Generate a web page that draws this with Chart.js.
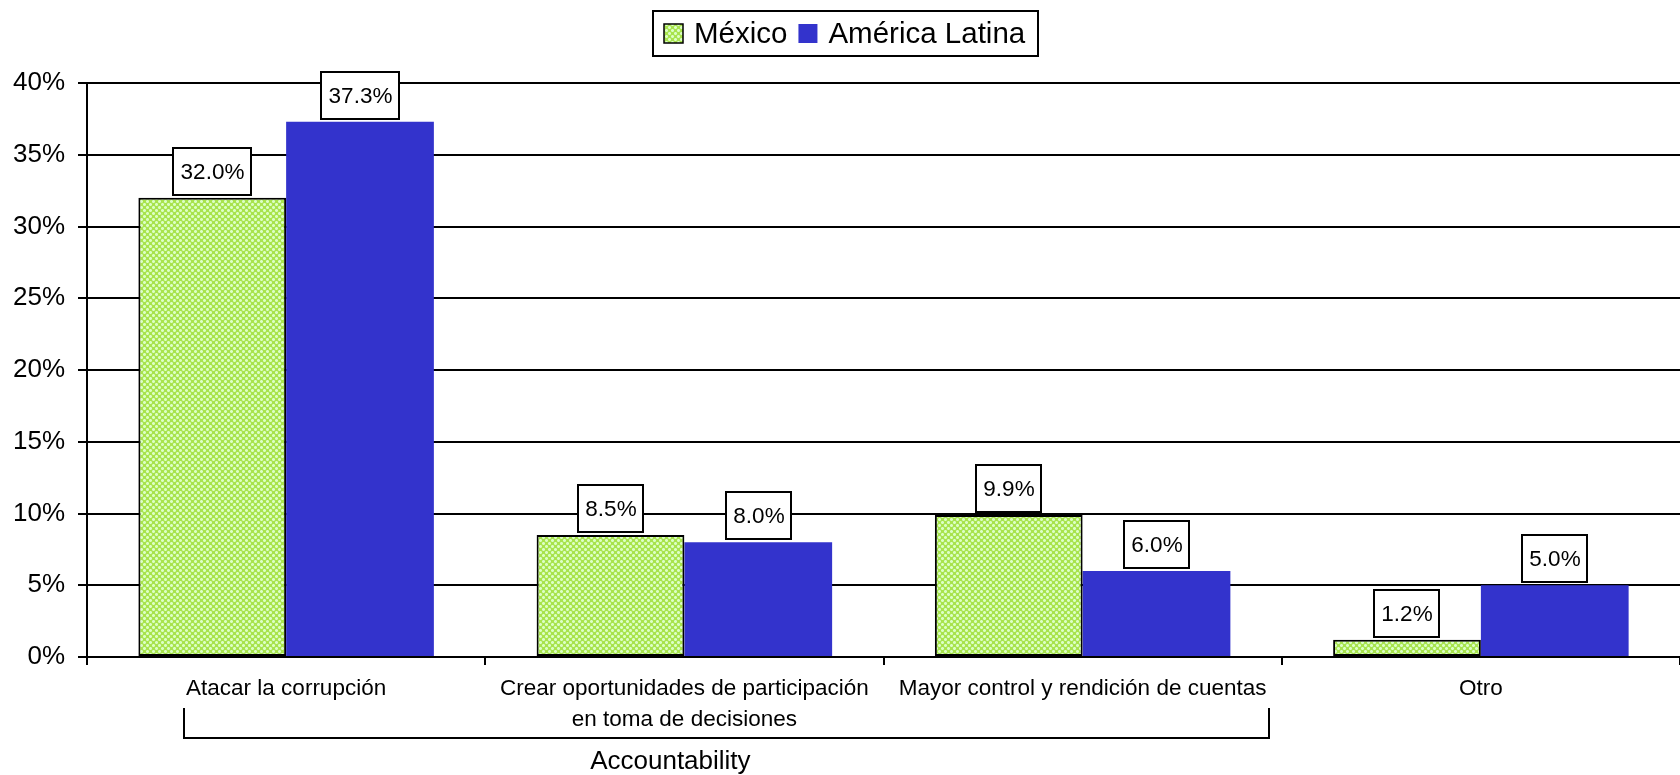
<!DOCTYPE html>
<html>
<head>
<meta charset="utf-8">
<script src="https://cdn.jsdelivr.net/npm/chart.js@4.4.1/dist/chart.umd.min.js"></script>
<style>
  html, body { margin: 0; padding: 0; background: #ffffff; }
  #wrap { width: 1680px; height: 775px; position: relative; }
</style>
</head>
<body>
<div id="wrap"><canvas id="c"></canvas></div>
<script>
// ---- data ----
const categories = [
  'Atacar la corrupción',
  ['Crear oportunidades de participación', 'en toma de decisiones'],
  'Mayor control y rendición de cuentas',
  'Otro'
];
const seriesNames = ['México', 'América Latina'];
const mexico = [32.0, 8.5, 9.9, 1.2];
const americaLatina = [37.3, 8.0, 6.0, 5.0];
const yTickValues = [0, 5, 10, 15, 20, 25, 30, 35, 40];
const groupLabel = 'Accountability';
const groupFirst = 0;
const groupLast = 2;

// ---- styles ----
const FONT = '"Liberation Sans", Arial, sans-serif';
const BLUE = '#3333cc';
const CAT_FONT_SIZE = 22.5;

function makePattern() {
  const t = document.createElement('canvas');
  t.width = 6; t.height = 6;
  const g = t.getContext('2d');
  g.fillStyle = '#a8e34c';
  g.fillRect(0, 0, 6, 6);
  g.fillStyle = '#dcffc4';
  const pts = [[0,0],[1,0],[5,0],[0,1],[0,5],[3,3],[2,3],[4,3],[3,2],[3,4]];
  pts.forEach(p => g.fillRect(p[0], p[1], 1, 1));
  g.fillStyle = '#c4f392';
  [[1,1],[5,5],[1,5],[5,1],[2,2],[4,4],[2,4],[4,2]].forEach(p => g.fillRect(p[0], p[1], 1, 1));
  return g.createPattern(t, 'repeat');
}
const ctx0 = document.getElementById('c').getContext('2d');
const greenPattern = makePattern();

// ---- plugins ----
const labelBoxes = {
  id: 'labelBoxes',
  afterDatasetsDraw(chart) {
    const ctx = chart.ctx;
    ctx.save();
    ctx.font = '22.5px ' + FONT;
    ctx.textAlign = 'center';
    ctx.textBaseline = 'middle';
    chart.data.datasets.forEach((ds, di) => {
      const meta = chart.getDatasetMeta(di);
      meta.data.forEach((bar, i) => {
        const txt = ds.data[i].toFixed(1) + '%';
        const w = Math.round(ctx.measureText(txt).width + 14);
        const h = 47;
        const bottom = bar.y - 3;
        const x0 = Math.round(bar.x - w / 2);
        const y0 = Math.round(bottom - h);
        ctx.fillStyle = '#ffffff';
        ctx.fillRect(x0, y0, w, h);
        ctx.lineWidth = 2;
        ctx.strokeStyle = '#000000';
        ctx.strokeRect(x0, y0, w, h);
        ctx.fillStyle = '#000000';
        ctx.fillText(txt, x0 + w / 2 + 0.5, y0 + h / 2 + 1);
      });
    });
    ctx.restore();
  }
};

const extras = {
  id: 'extras',
  afterDraw(chart) {
    const ctx = chart.ctx;
    const xs = chart.scales.x;
    ctx.save();
    // group bracket spanning the labels of the grouped categories
    ctx.font = CAT_FONT_SIZE + 'px ' + FONT;
    const firstLbl = Array.isArray(categories[groupFirst]) ? categories[groupFirst][0] : categories[groupFirst];
    const lastLbl = Array.isArray(categories[groupLast]) ? categories[groupLast][0] : categories[groupLast];
    const left = Math.round(xs.getPixelForValue(groupFirst) - ctx.measureText(firstLbl).width / 2) - 2;
    const right = Math.round(xs.getPixelForValue(groupLast) + ctx.measureText(lastLbl).width / 2) + 3;
    const yTop = xs.top + 51, yBot = xs.top + 81;
    ctx.strokeStyle = '#000';
    ctx.lineWidth = 2;
    ctx.beginPath();
    ctx.moveTo(left, yTop); ctx.lineTo(left, yBot); ctx.lineTo(right, yBot); ctx.lineTo(right, yTop);
    ctx.stroke();
    ctx.font = '26px ' + FONT;
    ctx.fillStyle = '#000';
    ctx.textAlign = 'center';
    ctx.textBaseline = 'middle';
    ctx.fillText(groupLabel, (xs.getPixelForValue(groupFirst) + xs.getPixelForValue(groupLast)) / 2 - 14, xs.top + 105);

    // legend
    ctx.font = '29.5px ' + FONT;
    const sw = 19;
    const w1 = ctx.measureText(seriesNames[0]).width;
    const w2 = ctx.measureText(seriesNames[1]).width;
    const padL = 11, padR = 13, gapSw = 11, gapItem = 11;
    const total = Math.round(padL + sw + gapSw + w1 + gapItem + sw + gapSw + w2 + padR);
    const bx = Math.round(chart.width / 2 + 5 - total / 2);
    const by = 11, bh = 45;
    ctx.fillStyle = '#fff';
    ctx.fillRect(bx, by, total, bh);
    ctx.lineWidth = 2;
    ctx.strokeStyle = '#000';
    ctx.strokeRect(bx, by, total, bh);
    const cy = by + bh / 2;
    let x = bx + padL;
    ctx.fillStyle = greenPattern;
    ctx.fillRect(x, cy - sw / 2, sw, sw);
    ctx.lineWidth = 1.5;
    ctx.strokeRect(x, cy - sw / 2, sw, sw);
    x += sw + gapSw;
    ctx.fillStyle = '#000';
    ctx.textAlign = 'left';
    ctx.fillText(seriesNames[0], x, cy + 1);
    x += w1 + gapItem;
    ctx.fillStyle = BLUE;
    ctx.fillRect(x, cy - sw / 2, sw, sw);
    x += sw + gapSw;
    ctx.fillStyle = '#000';
    ctx.fillText(seriesNames[1], x, cy + 1);
    ctx.restore();
  }
};

new Chart(ctx0, {
  type: 'bar',
  data: {
    labels: categories,
    datasets: [
      {
        label: seriesNames[0],
        data: mexico,
        backgroundColor: greenPattern,
        borderColor: '#000000',
        borderWidth: 2,
        borderSkipped: false
      },
      {
        label: seriesNames[1],
        data: americaLatina,
        backgroundColor: BLUE,
        borderWidth: 0
      }
    ]
  },
  options: {
    responsive: true,
    maintainAspectRatio: false,
    animation: false,
    devicePixelRatio: 1,
    layout: { padding: { top: 83, right: -7, left: 0, bottom: 0 } },
    plugins: {
      legend: { display: false },
      tooltip: { enabled: false },
      title: { display: false }
    },
    datasets: { bar: { categoryPercentage: 0.742, barPercentage: 1.0 } },
    scales: {
      x: {
        grid: { display: true, drawOnChartArea: false, color: '#000', lineWidth: 2, tickLength: 8, offset: true },
        border: { display: true, color: '#000', width: 2 },
        ticks: {
          color: '#000',
          font: { family: FONT, size: CAT_FONT_SIZE, lineHeight: '31px' },
          padding: 8,
          maxRotation: 0,
          autoSkip: false
        },
        afterFit(scale) { scale.height = 118; }
      },
      y: {
        min: 0,
        max: 40,
        afterBuildTicks(scale) { scale.ticks = yTickValues.map(v => ({ value: v })); },
        grid: { color: '#000', lineWidth: 2, tickLength: 9 },
        border: { display: true, color: '#000', width: 2 },
        ticks: {
          color: '#000',
          font: { family: FONT, size: 26 },
          padding: 13,
          callback: v => v + '%'
        },
        afterFit(scale) { scale.width = 87; }
      }
    }
  },
  plugins: [labelBoxes, extras]
});
</script>
</body>
</html>
